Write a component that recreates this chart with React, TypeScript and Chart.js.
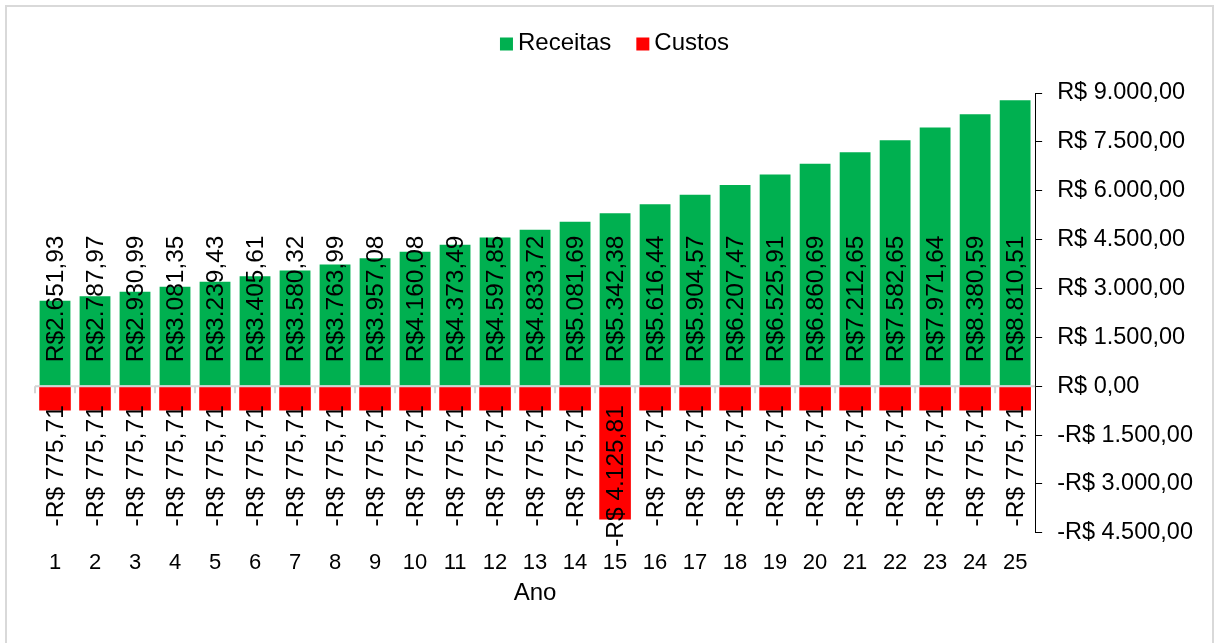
import React, { useEffect, useRef } from "react";
import { Chart, registerables } from "chart.js";

Chart.register(...registerables);

// Ano 1..25
const anos: string[] = Array.from({ length: 25 }, (_, i) => String(i + 1));

const receitas: number[] = [
  2651.93, 2787.97, 2930.99, 3081.35, 3239.43, 3405.61, 3580.32, 3763.99,
  3957.08, 4160.08, 4373.49, 4597.85, 4833.72, 5081.69, 5342.38, 5616.44,
  5904.57, 6207.47, 6525.91, 6860.69, 7212.65, 7582.65, 7971.64, 8380.59,
  8810.51,
];

const custos: number[] = [
  -775.71, -775.71, -775.71, -775.71, -775.71, -775.71, -775.71, -775.71,
  -775.71, -775.71, -775.71, -775.71, -775.71, -775.71, -4125.81, -775.71,
  -775.71, -775.71, -775.71, -775.71, -775.71, -775.71, -775.71, -775.71,
  -775.71,
];

const yMin = -4500;
const yMax = 9000;
const yStep = 1500;

const FONT = "'Liberation Sans', Arial, Helvetica, sans-serif";

// 1234.5 -> "1.234,50"
function brNumber(v: number): string {
  const [int, dec] = Math.abs(v).toFixed(2).split(".");
  const withDots = int.replace(/\B(?=(\d{3})+(?!\d))/g, ".");
  return `${withDots},${dec}`;
}

function axisLabel(v: number): string {
  return (v < 0 ? "-R$ " : "R$ ") + brNumber(v);
}

function barLabel(v: number): string {
  return v < 0 ? `-R$ ${brNumber(v)}` : `R$${brNumber(v)}`;
}

// compact legend: square swatch, small gap, label; centred across the top
const topLegend = {
  id: "topLegend",
  afterDraw(chart: any) {
    const { ctx } = chart;
    const box = 13;
    const gap = 5;
    const between = 25;
    ctx.save();
    ctx.font = `24px ${FONT}`;
    ctx.textBaseline = "middle";
    ctx.textAlign = "left";
    const items = chart.data.datasets.map((ds: any) => ({
      text: ds.label as string,
      color: ds.backgroundColor as string,
      w: ctx.measureText(ds.label).width,
    }));
    const total =
      items.reduce((s: number, it: any) => s + box + gap + it.w, 0) +
      between * (items.length - 1);
    let x = chart.width / 2 + 7 - total / 2;
    const cy = 44;
    items.forEach((it: any) => {
      ctx.fillStyle = it.color;
      ctx.fillRect(x, cy - box / 2, box, box);
      x += box + gap;
      ctx.fillStyle = "#000";
      ctx.fillText(it.text, x, cy - 1);
      x += it.w + between;
    });
    ctx.restore();
  },
};

// category axis line at zero with boundary ticks, then rotated value labels
const zeroAxisAndLabels = {
  id: "zeroAxisAndLabels",
  afterDatasetsDraw(chart: any) {
    const { ctx, chartArea } = chart;
    const x = chart.scales.x;
    const y = chart.scales.y;
    const zero = y.getPixelForValue(0);

    ctx.save();
    ctx.strokeStyle = "#d4d4d4";
    ctx.lineWidth = 2;
    ctx.beginPath();
    ctx.moveTo(chartArea.left, zero);
    ctx.lineTo(chartArea.right, zero);
    for (let i = 0; i < anos.length; i++) {
      const bx = x.getPixelForValue(i - 0.5);
      ctx.moveTo(bx, zero);
      ctx.lineTo(bx, zero + 7);
    }
    ctx.stroke();
    ctx.restore();

    ctx.save();
    ctx.fillStyle = "#000";
    ctx.font = `24.5px ${FONT}`;
    ctx.textBaseline = "middle";
    chart.data.datasets.forEach((ds: any, di: number) => {
      const meta = chart.getDatasetMeta(di);
      meta.data.forEach((bar: any, i: number) => {
        const v = ds.data[i] as number;
        ctx.save();
        if (v >= 0) {
          ctx.translate(bar.x, zero - 24);
          ctx.rotate(-Math.PI / 2);
          ctx.textAlign = "left";
        } else {
          ctx.translate(bar.x, zero + 19);
          ctx.rotate(-Math.PI / 2);
          ctx.textAlign = "right";
        }
        ctx.fillText(barLabel(v), 0, 1);
        ctx.restore();
      });
    });
    ctx.restore();
  },
};

export default function App() {
  const canvasRef = useRef<HTMLCanvasElement | null>(null);

  useEffect(() => {
    if (!canvasRef.current) return;
    const chart = new Chart(canvasRef.current, {
      type: "bar",
      data: {
        labels: anos,
        datasets: [
          {
            label: "Receitas",
            data: receitas,
            backgroundColor: "#00B050",
            borderColor: "rgba(255,255,255,0.55)",
            borderWidth: 1,
            barPercentage: 0.82,
            categoryPercentage: 1,
          },
          {
            label: "Custos",
            data: custos,
            backgroundColor: "#FF0000",
            borderColor: "rgba(255,255,255,0.55)",
            borderWidth: 1,
            barPercentage: 0.84,
            categoryPercentage: 1,
          },
        ],
      },
      options: {
        responsive: false,
        animation: false,
        layout: { padding: { left: 35, right: 7, top: 93, bottom: 35 } },
        plugins: {
          legend: { display: false },
          tooltip: { enabled: false },
        },
        scales: {
          x: {
            stacked: true,
            grid: { display: false, drawTicks: true, tickLength: 13 },
            border: { display: false },
            ticks: {
              color: "#000",
              font: { family: FONT, size: 22 },
              padding: 4,
              maxRotation: 0,
              autoSkip: false,
            },
            title: {
              display: true,
              text: "Ano",
              color: "#000",
              font: { family: FONT, size: 24 },
              padding: { top: -1, bottom: 0 },
            },
          },
          y: {
            stacked: true,
            position: "right",
            min: yMin,
            max: yMax,
            border: { display: true, color: "#000", width: 1 },
            grid: {
              drawOnChartArea: false,
              drawTicks: true,
              tickLength: 7,
              tickColor: "#000",
              color: "#000",
            },
            ticks: {
              stepSize: yStep,
              color: "#000",
              font: { family: FONT, size: 23.5 },
              padding: 15,
              callback: (v: any) => axisLabel(Number(v)),
            },
          },
        },
      },
      plugins: [zeroAxisAndLabels, topLegend],
    });
    return () => chart.destroy();
  }, []);

  return (
    <div
      style={{
        position: "absolute",
        left: 0,
        top: 0,
        width: 1215,
        height: 643,
        overflow: "hidden",
        background: "#fff",
      }}
    >
      <div
        style={{
          position: "absolute",
          left: 5,
          top: 5,
          width: 1209,
          height: 700,
          border: "2px solid #d9d9d9",
          boxSizing: "border-box",
        }}
      />
      <canvas
        ref={canvasRef}
        width={1215}
        height={643}
        style={{ position: "absolute", left: 0, top: 0 }}
      />
    </div>
  );
}
